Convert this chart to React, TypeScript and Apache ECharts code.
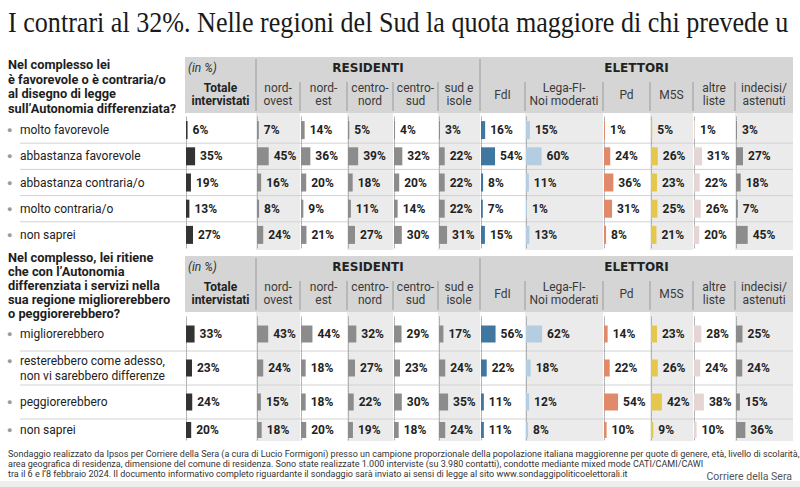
import React, { useEffect, useRef } from "react";
import * as echarts from "echarts";

// ---------- texts ----------
const TITLE_TEXT = "I contrari al 32%. Nelle regioni del Sud la quota maggiore di chi prevede u";
const QUESTION_1 = "Nel complesso lei\nè favorevole o è contraria/o\nal disegno di legge\nsull’Autonomia differenziata?";
const QUESTION_2 = "Nel complesso, lei ritiene\nche con l’Autonomia\ndifferenziata i servizi nella\nsua regione migliorerebbero\no peggiorerebbero?";
const UNIT_NOTE = "(in %)";
const GROUP_RESIDENTI = "RESIDENTI";
const GROUP_ELETTORI = "ELETTORI";
const COLUMN_HEADERS = [
  "Totale\nintervistati", "nord-\novest", "nord-\nest", "centro-\nnord", "centro-\nsud", "sud e\nisole",
  "FdI", "Lega-FI-\nNoi moderati", "Pd", "M5S", "altre\nliste", "indecisi/\nastenuti",
];
const FOOTNOTE =
  "Sondaggio realizzato da Ipsos per Corriere della Sera (a cura di Lucio Formigoni) presso un campione proporzionale della popolazione italiana maggiorenne per quote di genere, età, livello di scolarità,\n" +
  "area geografica di residenza, dimensione del comune di residenza. Sono state realizzate 1.000 interviste (su 3.980 contatti), condotte mediante mixed mode CATI/CAMI/CAWI\n" +
  "tra il 6 e l’8 febbraio 2024. Il documento informativo completo riguardante il sondaggio sarà inviato ai sensi di legge al sito www.sondaggipoliticoelettorali.it";
const SOURCE = "Corriere della Sera";

// ---------- categories ----------
const ANSWERS_1 = ["molto favorevole", "abbastanza favorevole", "abbastanza contraria/o", "molto contraria/o", "non saprei"];
const ANSWERS_2 = ["migliorerebbero", "resterebbero come adesso,\nnon vi sarebbero differenze", "peggiorerebbero", "non saprei"];

// ---------- values (%), question 1, one array per column ----------
const Q1_TOTALE = [6, 35, 19, 13, 27];
const Q1_NORD_OVEST = [7, 45, 16, 8, 24];
const Q1_NORD_EST = [14, 36, 20, 9, 21];
const Q1_CENTRO_NORD = [5, 39, 18, 11, 27];
const Q1_CENTRO_SUD = [4, 32, 20, 14, 30];
const Q1_SUD_ISOLE = [3, 22, 22, 22, 31];
const Q1_FDI = [16, 54, 8, 7, 15];
const Q1_LEGA = [15, 60, 11, 1, 13];
const Q1_PD = [1, 24, 36, 31, 8];
const Q1_M5S = [5, 26, 23, 25, 21];
const Q1_ALTRE = [1, 31, 22, 26, 20];
const Q1_INDECISI = [3, 27, 18, 7, 45];

// ---------- values (%), question 2 ----------
const Q2_TOTALE = [33, 23, 24, 20];
const Q2_NORD_OVEST = [43, 24, 15, 18];
const Q2_NORD_EST = [44, 18, 18, 20];
const Q2_CENTRO_NORD = [32, 27, 22, 19];
const Q2_CENTRO_SUD = [29, 23, 30, 18];
const Q2_SUD_ISOLE = [17, 24, 35, 24];
const Q2_FDI = [56, 22, 11, 11];
const Q2_LEGA = [62, 18, 12, 8];
const Q2_PD = [14, 22, 54, 10];
const Q2_M5S = [23, 26, 42, 9];
const Q2_ALTRE = [28, 24, 38, 10];
const Q2_INDECISI = [25, 24, 15, 36];

const Q1 = [Q1_TOTALE, Q1_NORD_OVEST, Q1_NORD_EST, Q1_CENTRO_NORD, Q1_CENTRO_SUD, Q1_SUD_ISOLE, Q1_FDI, Q1_LEGA, Q1_PD, Q1_M5S, Q1_ALTRE, Q1_INDECISI];
const Q2 = [Q2_TOTALE, Q2_NORD_OVEST, Q2_NORD_EST, Q2_CENTRO_NORD, Q2_CENTRO_SUD, Q2_SUD_ISOLE, Q2_FDI, Q2_LEGA, Q2_PD, Q2_M5S, Q2_ALTRE, Q2_INDECISI];

// ---------- layout & style ----------
const COL_X = [185, 256, 300, 347, 393, 438, 480, 525, 603, 650, 693, 735, 793];
const BAR_COLORS = ["#333333", "#8c8c8c", "#8c8c8c", "#8c8c8c", "#8c8c8c", "#8c8c8c", "#3f77a0", "#b4cde0", "#e08a6b", "#e5c74d", "#e6d5d5", "#8c8c8c"];
const SHADED = [false, true, false, true, false, true, false, true, false, true, false, true];
const PX_PER_PCT = 0.26;
const SANS = "Roboto, 'Noto Sans', sans-serif";

const SEGMENTS = [
  { table: 0, rows: [0, 1, 2, 3, 4], top: 117, height: 131, barWidth: 18 },
  { table: 1, rows: [0, 1, 2], top: 317, height: 102, barWidth: 17 },
  { table: 1, rows: [3], top: 419, height: 22, barWidth: 16 },
];
const TABLES = [
  { headerTop: 57, dataTop: 113, dataBottom: 250, answers: ANSWERS_1, values: Q1, question: QUESTION_1, qCenter: 86.5, qLine: 14.5, separators: [143.2, 169.4, 195.6, 221.8] },
  { headerTop: 256, dataTop: 312, dataBottom: 441, answers: ANSWERS_2, values: Q2, question: QUESTION_2, qCenter: 285, qLine: 14, separators: [351, 385, 419] },
];

function buildOption() {
  const grid: any[] = [];
  const xAxis: any[] = [];
  const yAxis: any[] = [];
  const series: any[] = [];
  const graphic: any[] = [];

  // title
  graphic.push({
    type: "text", x: 8, y: 22, scaleX: 0.9, z: 10,
    style: { text: TITLE_TEXT, fontSize: 29, fontFamily: "'Liberation Serif', 'DejaVu Serif', serif", fill: "#1a1a1a", align: "left", verticalAlign: "middle", textAlign: "left", textVerticalAlign: "middle" },
  });

  TABLES.forEach((t) => {
    const h0 = t.headerTop;
    // question
    graphic.push({
      type: "text", x: 8, y: t.qCenter, z: 10,
      style: { text: t.question, fontSize: 12.8, fontWeight: "bold", fontFamily: SANS, fill: "#1e1e1e", lineHeight: t.qLine, align: "left", verticalAlign: "middle", textAlign: "left", textVerticalAlign: "middle" },
    });
    // column shading
    for (let c = 0; c < 12; c++) {
      if (!SHADED[c]) continue;
      graphic.push({
        type: "rect", z: -2,
        shape: { x: COL_X[c], y: t.dataTop, width: COL_X[c + 1] - COL_X[c], height: t.dataBottom - t.dataTop },
        style: { fill: "#ebebeb" },
      });
    }
    // row separators
    t.separators.forEach((y) => {
      graphic.push({ type: "line", z: -1, shape: { x1: 20, y1: y, x2: 793, y2: y }, style: { stroke: "#d2d2d2", lineWidth: 1 } });
    });
    // header block
    graphic.push({ type: "rect", z: 0, shape: { x: 185, y: h0, width: 608, height: 56 }, style: { fill: "#d5d5d5" } });
    [256, 480].forEach((x) => {
      graphic.push({ type: "line", z: 1, shape: { x1: x, y1: h0 + 2, x2: x, y2: h0 + 54 }, style: { stroke: "#9a9a9a", lineWidth: 1 } });
    });
    [300, 347, 393, 438, 525, 603, 650, 693, 735].forEach((x) => {
      graphic.push({ type: "line", z: 1, shape: { x1: x, y1: h0 + 25, x2: x, y2: h0 + 54 }, style: { stroke: "#9a9a9a", lineWidth: 1 } });
    });
    graphic.push({
      type: "text", x: 188, y: h0 + 11, z: 2,
      style: { text: UNIT_NOTE, fontSize: 12, fontStyle: "italic", fontFamily: SANS, fill: "#333", align: "left", verticalAlign: "middle", textAlign: "left", textVerticalAlign: "middle" },
    });
    graphic.push({
      type: "text", x: (256 + 480) / 2, y: h0 + 11, z: 2,
      style: { text: GROUP_RESIDENTI, fontSize: 12, fontWeight: "bold", fontFamily: "'DejaVu Sans', sans-serif", fill: "#222", align: "center", verticalAlign: "middle", textAlign: "center", textVerticalAlign: "middle" },
    });
    graphic.push({
      type: "text", x: (480 + 793) / 2, y: h0 + 11, z: 2,
      style: { text: GROUP_ELETTORI, fontSize: 12, fontWeight: "bold", fontFamily: "'DejaVu Sans', sans-serif", fill: "#222", align: "center", verticalAlign: "middle", textAlign: "center", textVerticalAlign: "middle" },
    });
    COLUMN_HEADERS.forEach((txt, c) => {
      graphic.push({
        type: "text", x: (COL_X[c] + COL_X[c + 1]) / 2, y: h0 + 37.5, z: 2,
        style: {
          text: txt, fontSize: 12, fontWeight: c === 0 ? "bold" : "normal", fontFamily: SANS,
          fill: c === 0 ? "#222" : "#3a3a3a", lineHeight: 13.5,
          align: "center", verticalAlign: "middle", textAlign: "center", textVerticalAlign: "middle",
        },
      });
    });
  });

  // grids / bars
  let idx = 0;
  for (let c = 0; c < 12; c++) {
    SEGMENTS.forEach((seg) => {
      const t = TABLES[seg.table];
      grid.push({ left: COL_X[c] + 1, width: 100 * PX_PER_PCT, top: seg.top, height: seg.height, containLabel: false });
      xAxis.push({ gridIndex: idx, type: "value", min: 0, max: 100, show: false });
      yAxis.push({
        gridIndex: idx, type: "category", inverse: true,
        data: seg.rows.map((r) => t.answers[r]),
        axisLine: { show: true, lineStyle: { color: "#a5a5a5", type: "dotted", width: 1 } },
        axisTick: { show: false },
        splitLine: { show: false },
        axisLabel: c === 0
          ? {
              show: true, interval: 0, align: "left", margin: COL_X[0] + 1 - 7,
              formatter: (v: string) => v.split("\n").map((l, i) => (i === 0 ? `{b|●}{t|${l}}` : `{t2|${l}}`)).join("\n"),
              rich: {
                b: { fontSize: 9, color: "#9a9a9a", width: 13, verticalAlign: "middle" },
                t: { fontSize: 12, fontFamily: SANS, color: "#222", lineHeight: 15 },
                t2: { fontSize: 12, fontFamily: SANS, color: "#222", lineHeight: 15, padding: [0, 0, 0, 13] },
              },
            }
          : { show: false },
      });
      series.push({
        type: "bar", xAxisIndex: idx, yAxisIndex: idx,
        data: seg.rows.map((r) => t.values[c][r]),
        barWidth: seg.barWidth, barMinHeight: 1,
        itemStyle: { color: BAR_COLORS[c] },
        silent: true,
        label: {
          show: true, position: "right", distance: 5,
          formatter: "{c}%", fontSize: 12, fontWeight: "bold", fontFamily: SANS, color: "#222",
        },
      });
      idx++;
    });
  }

  // footnote
  graphic.push({
    type: "text", x: 8, y: 463, scaleX: 0.95, z: 10,
    style: { text: FOOTNOTE, fontSize: 9.5, fontFamily: SANS, fill: "#333", lineHeight: 10, align: "left", verticalAlign: "middle", textAlign: "left", textVerticalAlign: "middle" },
  });
  graphic.push({
    type: "text", x: 792, y: 476, z: 10,
    style: { text: SOURCE, fontSize: 10.5, fontFamily: SANS, fill: "#555", align: "right", verticalAlign: "middle", textAlign: "right", textVerticalAlign: "middle" },
  });
  graphic.push({ type: "rect", z: -3, shape: { x: 0, y: 481, width: 800, height: 6 }, style: { fill: "#eeeeee" } });

  return {
    animation: false,
    backgroundColor: "#ffffff",
    grid, xAxis, yAxis, series,
    graphic: { elements: graphic },
  };
}

export default function App() {
  const ref = useRef<HTMLDivElement>(null);
  useEffect(() => {
    if (!ref.current) return;
    const chart = echarts.init(ref.current, undefined, { renderer: "svg" });
    chart.setOption(buildOption() as any);
    return () => chart.dispose();
  }, []);
  return <div ref={ref} style={{ width: 800, height: 487, position: "absolute", left: 0, top: 0 }} />;
}
